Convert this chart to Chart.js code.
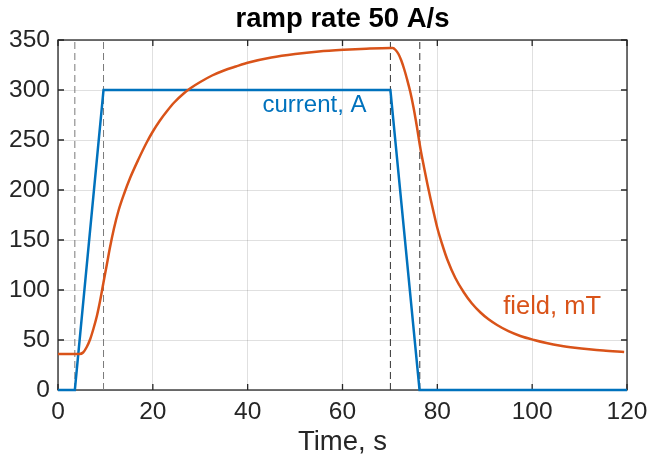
<!DOCTYPE html>
<html><head><meta charset="utf-8">
<script src="https://cdn.jsdelivr.net/npm/chart.js@4.4.1/dist/chart.umd.min.js"></script>
<style>html,body{margin:0;padding:0;background:#fff}#wrap{width:649px;height:459px}</style>
</head><body><div id="wrap"><canvas id="c" width="649" height="459"></canvas></div>
<script>
// ---- data ----
const timeCurrent = [0, 3.55, 9.6, 70.1, 76.25, 120];
const currentA    = [0, 0, 300, 300, 0, 0];
const timeField = [0, 4.5, 5.3, 6.06, 6.8, 7.46, 8.2, 8.87, 9.57, 10.3, 10.98, 11.8, 12.74, 14, 15.2, 17, 18.7, 20, 21.5, 23, 24.5, 26.5, 28, 30, 32.5, 35, 37.5, 40.2, 45, 50, 55, 60.3, 65, 70.1, 70.6, 71.2, 71.8, 72.4, 73, 73.6, 74.3, 75, 75.7, 76.45, 77.2, 77.9, 78.6, 79.3, 80, 81, 82.1, 83.8, 85.6, 87.3, 89.1, 90.8, 92.6, 95, 97.5, 100.4, 103, 106, 109, 112, 115, 119.4];
const fieldMT   = [36, 36, 37.5, 43, 51, 61, 74, 89, 107, 125.5, 143, 161.5, 179, 197, 212, 231, 247.5, 258.5, 269.5, 279, 287.5, 296.5, 302, 308, 314.5, 319.5, 323.5, 327.5, 332.5, 336, 338.5, 340.2, 341.3, 342, 342, 340, 336, 329.5, 321, 311, 298, 282, 263, 241, 222.5, 206, 190.5, 176, 162, 146, 130.5, 112, 97.5, 86.5, 77.5, 70.7, 65, 58.8, 54, 50, 47, 44.3, 42.3, 40.7, 39.4, 38];
const markerTimes = [3.55, 9.6, 70.1, 76.3];
const xTickValues = [0, 20, 40, 60, 80, 100, 120];
const yTickValues = [0, 50, 100, 150, 200, 250, 300, 350];
const seriesNames = ['current, A', 'field, mT'];
const titleText = 'ramp rate 50 A/s';
const xTitle = 'Time, s';

// ---- styles / positions ----
const BLUE = '#0072BD', ORANGE = '#D95319', AXIS = '#262626';
const FONT = '"Liberation Sans", Arial, Helvetica, sans-serif';
const labelPos = [{x: 54.1, y: 285, color: BLUE, size: 24}, {x: 104.2, y: 83, color: ORANGE, size: 25.5}];
const markerColors = ['#7a7a7a', '#7a7a7a', '#333333', '#333333'];

const toXY = (xs, ys) => xs.map((x, i) => ({x, y: ys[i]}));

const datasets = [
  {label: seriesNames[1], data: toXY(timeField, fieldMT), borderColor: ORANGE, borderWidth: 2.5,
   pointRadius: 0, cubicInterpolationMode: 'monotone', fill: false, order: 0, clip: false},
  {label: seriesNames[0], data: toXY(timeCurrent, currentA), borderColor: BLUE, borderWidth: 2.5,
   pointRadius: 0, tension: 0, fill: false, order: 1, clip: false}
];
markerTimes.forEach((t, i) => datasets.push({
  label: 'marker' + i, data: [{x: t, y: yTickValues[0]}, {x: t, y: yTickValues[yTickValues.length - 1]}],
  borderColor: markerColors[i], borderWidth: 1, borderDash: [7, 4], pointRadius: 0, order: 2, fill: false
}));

const frame = {
  id: 'frame',
  beforeDatasetsDraw(chart) {
    const {ctx, chartArea: a, scales: {x, y}} = chart;
    ctx.save();
    ctx.strokeStyle = AXIS; ctx.lineWidth = 1.3;
    ctx.strokeRect(a.left, a.top, a.right - a.left, a.bottom - a.top);
    const L = 6;
    ctx.beginPath();
    xTickValues.forEach(v => { const p = x.getPixelForValue(v);
      ctx.moveTo(p, a.bottom); ctx.lineTo(p, a.bottom - L);
      ctx.moveTo(p, a.top); ctx.lineTo(p, a.top + L); });
    yTickValues.forEach(v => { const p = y.getPixelForValue(v);
      ctx.moveTo(a.left, p); ctx.lineTo(a.left + L, p);
      ctx.moveTo(a.right, p); ctx.lineTo(a.right - L, p); });
    ctx.stroke();
    ctx.restore();
  },
  afterDatasetsDraw(chart) {
    const {ctx, scales: {x, y}} = chart;
    ctx.save();
    ctx.textAlign = 'center'; ctx.textBaseline = 'middle';
    seriesNames.forEach((s, i) => {
      ctx.font = labelPos[i].size + 'px ' + FONT;
      ctx.fillStyle = labelPos[i].color;
      ctx.fillText(s, x.getPixelForValue(labelPos[i].x), y.getPixelForValue(labelPos[i].y));
    });
    ctx.restore();
  }
};

new Chart(document.getElementById('c'), {
  type: 'line',
  data: {datasets},
  options: {
    responsive: false, animation: false, devicePixelRatio: 1,
    layout: {padding: {left: 0, right: 22, top: 0, bottom: 0}},
    plugins: {
      legend: {display: false}, tooltip: {enabled: false},
      title: {display: true, text: titleText, color: '#000', fullSize: false,
        font: {family: FONT, size: 27.5, weight: 'bold', lineHeight: 1.2}, padding: {top: 3, bottom: 4}}
    },
    scales: {
      x: {type: 'linear', min: 0, max: 120,
        afterBuildTicks: s => { s.ticks = xTickValues.map(v => ({value: v})); },
        afterFit: s => { s.height = 69; s.paddingLeft = 0; s.paddingRight = 0; },
        grid: {color: 'rgba(0,0,0,0.12)', drawTicks: false, lineWidth: 1},
        border: {display: false},
        ticks: {color: AXIS, padding: 8, maxRotation: 0, font: {family: FONT, size: 24.5}},
        title: {display: true, text: xTitle, color: AXIS, padding: {top: 0, bottom: 0},
          font: {family: FONT, size: 27.5, lineHeight: 1.2}}
      },
      y: {type: 'linear', min: 0, max: 350,
        afterBuildTicks: s => { s.ticks = yTickValues.map(v => ({value: v})); },
        afterFit: s => { s.width = 58; s.paddingTop = 0; s.paddingBottom = 0; },
        grid: {color: 'rgba(0,0,0,0.12)', drawTicks: false, lineWidth: 1},
        border: {display: false},
        ticks: {color: AXIS, padding: 8, font: {family: FONT, size: 24.5}}
      }
    }
  },
  plugins: [frame]
});
</script></body></html>
